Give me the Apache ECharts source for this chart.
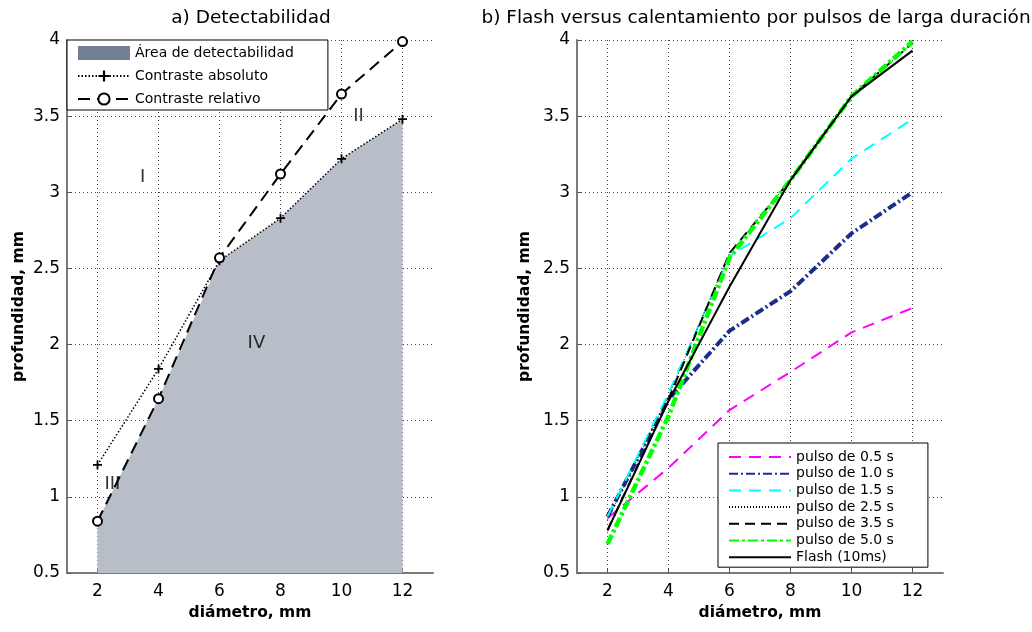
<!DOCTYPE html>
<html>
<head>
<meta charset="utf-8">
<script src="https://cdn.jsdelivr.net/npm/echarts@6/dist/echarts.min.js"></script>
<style>html,body{margin:0;padding:0;background:#fff;}#c{width:1032px;height:632px;}</style>
</head>
<body>
<div id="c"></div>
<script>
// ---- data ----
const diam = [2, 4, 6, 8, 10, 12];
const xTicks = [2, 4, 6, 8, 10, 12];
const yTicks = [0.5, 1, 1.5, 2, 2.5, 3, 3.5, 4];
// panel a
const contrasteAbsoluto = [1.21, 1.84, 2.55, 2.83, 3.22, 3.48];
const contrasteRelativo = [0.84, 1.645, 2.57, 3.12, 3.645, 3.99];
const areaDetectabilidad = [0.84, 1.645, 2.55, 2.83, 3.22, 3.48];
const zonaNombres = ['I', 'II', 'III', 'IV'];
const zonaX = [3.48, 10.56, 2.49, 7.21];
const zonaY = [3.1, 3.5, 1.085, 2.01];
// panel b
const pulso05 = [0.86, 1.19, 1.57, 1.82, 2.08, 2.24];
const pulso10 = [0.87, 1.64, 2.09, 2.35, 2.73, 3.0];
const pulso15 = [0.87, 1.68, 2.58, 2.83, 3.22, 3.48];
const pulso25 = [0.85, 1.66, 2.6, 3.08, 3.63, 3.98];
const pulso35 = [0.78, 1.64, 2.6, 3.08, 3.63, 3.98];
const pulso50 = [0.69, 1.53, 2.57, 3.08, 3.63, 3.99];
const flash = [0.78, 1.63, 2.38, 3.08, 3.63, 3.93];

const FONT = "'DejaVu Sans', Verdana, sans-serif";
const pairs = ys => diam.map((x, i) => [x, ys[i]]);

function xAxisDef(idx) {
  return {
    gridIndex: idx, type: 'value', min: 1, max: 13,
    name: 'diámetro, mm', nameLocation: 'middle', nameGap: 31,
    nameTextStyle: { fontFamily: FONT, fontSize: 15.5, color: '#000', fontWeight: 'bold' },
    axisLine: { show: true, lineStyle: { color: '#7a7a7a', width: 2 } },
    axisTick: { show: true, inside: true, length: 4, lineStyle: { color: '#555' }, customValues: xTicks },
    axisLabel: { fontFamily: FONT, fontSize: 17, color: '#000', margin: 10, customValues: xTicks },
    splitLine: { show: true, lineStyle: { type: [1, 3], color: '#444', width: 1 } }
  };
}
function yAxisDef(idx, gap) {
  return {
    gridIndex: idx, type: 'value', min: 0.5, max: 4, interval: 0.5,
    name: 'profundidad, mm', nameLocation: 'middle', nameGap: gap, nameRotate: 90,
    nameTextStyle: { fontFamily: FONT, fontSize: 15.5, color: '#000', fontWeight: 'bold' },
    axisLine: { show: true, lineStyle: { color: '#7a7a7a', width: 2 } },
    axisTick: { show: true, inside: true, length: 4, lineStyle: { color: '#555' } },
    axisLabel: { fontFamily: FONT, fontSize: 17, color: '#000', margin: 7 },
    splitLine: { show: true, lineStyle: { type: [1, 3], color: '#444', width: 1 } }
  };
}

const chart = echarts.init(document.getElementById('c'), null, { renderer: 'canvas' });
chart.setOption({
  animation: false,
  backgroundColor: '#fff',
  title: [
    { text: 'a) Detectabilidad', left: 246, top: 4, textAlign: 'center',
      textStyle: { fontFamily: FONT, fontSize: 18.5, fontWeight: 'normal', color: '#000' } },
    { text: 'b) Flash versus calentamiento por pulsos de larga duración', left: 751, top: 4, textAlign: 'center',
      textStyle: { fontFamily: FONT, fontSize: 18.5, fontWeight: 'normal', color: '#000' } }
  ],
  grid: [
    { left: 67, right: 599, top: 40, bottom: 59 },
    { left: 577, right: 89, top: 40, bottom: 59 }
  ],
  xAxis: [xAxisDef(0), xAxisDef(1)],
  yAxis: [yAxisDef(0, 40), yAxisDef(1, 44)],
  legend: [
    {
      left: 67, top: 40, orient: 'vertical',
      backgroundColor: '#fff', borderColor: '#000', borderWidth: 1,
      padding: [6, 34, 4, 10], itemWidth: 52, itemHeight: 14, itemGap: 9,
      textStyle: { fontFamily: FONT, fontSize: 14, color: '#000', lineHeight: 14 },
      selectedMode: false,
      data: [
        { name: 'Área de detectabilidad', icon: 'rect', itemStyle: { color: '#737f93' } },
        { name: 'Contraste absoluto' },
        { name: 'Contraste relativo' }
      ]
    },
    {
      left: 718, top: 443, orient: 'vertical',
      backgroundColor: '#fff', borderColor: '#000', borderWidth: 1,
      padding: [7, 34, 3, 10], itemWidth: 62, itemHeight: 12, itemGap: 2.7,
      textStyle: { fontFamily: FONT, fontSize: 14, color: '#000', lineHeight: 14 },
      itemStyle: { opacity: 0 },
      selectedMode: false,
      data: ['pulso de 0.5 s', 'pulso de 1.0 s', 'pulso de 1.5 s', 'pulso de 2.5 s',
             'pulso de 3.5 s', 'pulso de 5.0 s', 'Flash (10ms)']
    }
  ],
  series: [
    { name: 'Área de detectabilidad', type: 'line', xAxisIndex: 0, yAxisIndex: 0,
      data: pairs(areaDetectabilidad), symbol: 'none', z: 1,
      itemStyle: { color: '#737f93' },
      lineStyle: { width: 0, color: '#b8bec8' },
      areaStyle: { color: '#b8bec8', opacity: 1, origin: 'start' } },
    { name: 'Contraste absoluto', type: 'line', xAxisIndex: 0, yAxisIndex: 0,
      data: pairs(contrasteAbsoluto), z: 3,
      symbol: 'path://M4,0H6V4H10V6H6V10H4V6H0V4H4Z', symbolSize: 9,
      itemStyle: { color: '#000' },
      lineStyle: { color: '#000', width: 1.5, type: [1.5, 2] } },
    { name: 'Contraste relativo', type: 'line', xAxisIndex: 0, yAxisIndex: 0,
      data: pairs(contrasteRelativo), z: 4,
      symbol: 'emptyCircle', symbolSize: 9,
      itemStyle: { color: '#000', borderColor: '#000', borderWidth: 2 },
      lineStyle: { color: '#000', width: 2, type: [12, 7] } },
    { name: 'zonas', type: 'scatter', xAxisIndex: 0, yAxisIndex: 0, symbolSize: 0, z: 5,
      data: zonaNombres.map((n, i) => [zonaX[i], zonaY[i], n]),
      label: { show: true, position: 'inside', formatter: p => p.value[2],
        fontFamily: FONT, fontSize: 18, color: '#000' } },

    { name: 'pulso de 0.5 s', type: 'line', xAxisIndex: 1, yAxisIndex: 1, data: pairs(pulso05), symbol: 'none',
      itemStyle: { color: '#ff00ff' }, lineStyle: { color: '#ff00ff', width: 2, type: [12, 8] } },
    { name: 'pulso de 1.0 s', type: 'line', xAxisIndex: 1, yAxisIndex: 1, data: pairs(pulso10), symbol: 'none',
      itemStyle: { color: '#1a2e8c' }, lineStyle: { color: '#1a2e8c', width: 4, type: [9, 3, 2, 3] } },
    { name: 'pulso de 1.5 s', type: 'line', xAxisIndex: 1, yAxisIndex: 1, data: pairs(pulso15), symbol: 'none',
      itemStyle: { color: '#00ffff' }, lineStyle: { color: '#00ffff', width: 2, type: [12, 8] } },
    { name: 'pulso de 2.5 s', type: 'line', xAxisIndex: 1, yAxisIndex: 1, data: pairs(pulso25), symbol: 'none',
      itemStyle: { color: '#000' }, lineStyle: { color: '#000', width: 1, type: [1, 2] } },
    { name: 'pulso de 3.5 s', type: 'line', xAxisIndex: 1, yAxisIndex: 1, data: pairs(pulso35), symbol: 'none',
      itemStyle: { color: '#000' }, lineStyle: { color: '#000', width: 2, type: [10, 6] } },
    { name: 'pulso de 5.0 s', type: 'line', xAxisIndex: 1, yAxisIndex: 1, data: pairs(pulso50), symbol: 'none',
      itemStyle: { color: '#00ff00' }, lineStyle: { color: '#00ff00', width: 4.5, type: [10, 3, 3, 3] } },
    { name: 'Flash (10ms)', type: 'line', xAxisIndex: 1, yAxisIndex: 1, data: pairs(flash), symbol: 'none',
      itemStyle: { color: '#000' }, lineStyle: { color: '#000', width: 2 } }
  ]
});
</script>
</body>
</html>
